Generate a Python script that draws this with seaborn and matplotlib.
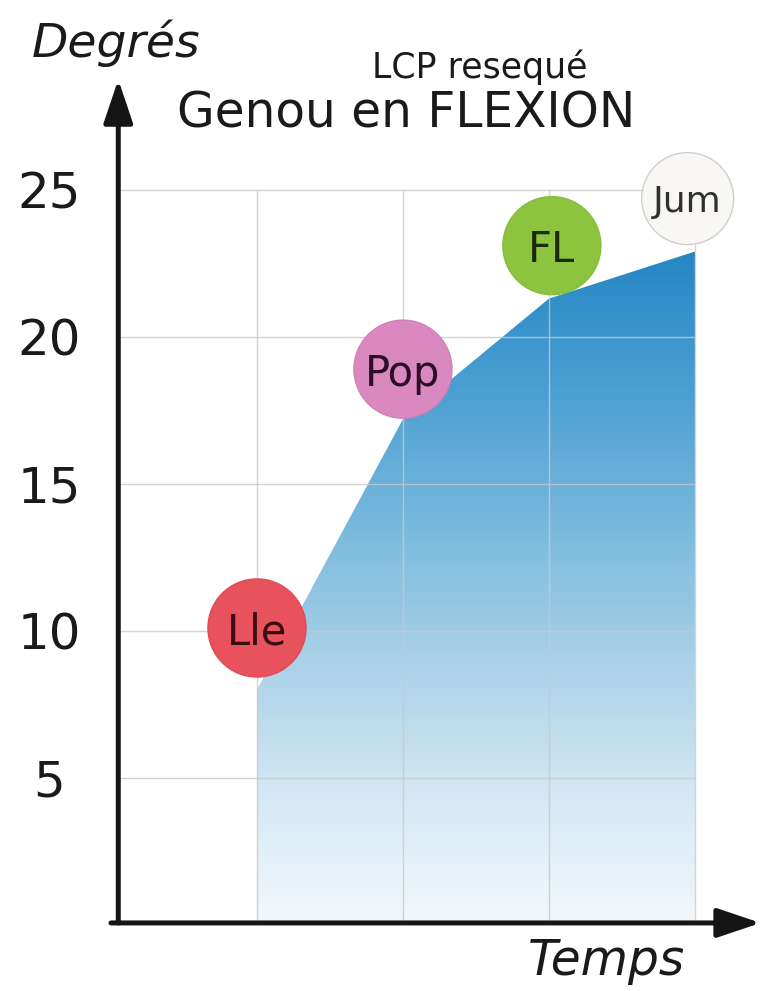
import numpy as np
import pandas as pd
import matplotlib
matplotlib.use("Agg")
import matplotlib.pyplot as plt
from matplotlib.colors import LinearSegmentedColormap
import seaborn as sns

# Flexion of the knee over time (ACL resected)
temps = [1, 2, 3, 4]
flexion = [8.0, 17.2, 21.3, 22.9]

# Muscle bubbles: label, position and colour
muscles = ["Lle", "Pop", "FL", "Jum"]
muscle_temps = [1.0, 2.0, 3.02, 3.95]
muscle_degres = [10.1, 18.9, 23.1, 24.7]
muscle_colors = ["#e8525c", "#d989c0", "#8cc43f", "#f9f7f3"]
muscle_text_colors = ["#3a0d12", "#2e0d2a", "#1c2a08", "#303030"]

ytick_values = [5, 10, 15, 20, 25]
ytick_labels = ["5", "10", "15", "20", "25"]

sns.set_style("white")
plt.rcParams["font.family"] = ["DejaVu Sans"]

fig = plt.figure(figsize=(7.64, 9.91), dpi=100)
ax = fig.add_axes([0.1548, 0.0666, 0.8408, 0.8517])
ax.set_xlim(0.05, 4.45)
ax.set_ylim(0, 28.7)
for s in ax.spines.values():
    s.set_visible(False)

# Gradient-filled area under the curve
df = pd.DataFrame({"temps": temps, "flexion": flexion})
poly = ax.fill_between(df["temps"], 0, df["flexion"], color="none", lw=0)
cmap = LinearSegmentedColormap.from_list(
    "bleu", ["#f4f8fc", "#d2e7f3", "#a8d0e7", "#77b8dd", "#4a9fd2", "#2586c3"])
grad = np.linspace(0, 1, 256).reshape(-1, 1)
img = ax.imshow(grad, cmap=cmap, origin="lower", aspect="auto",
                extent=(min(temps), max(temps), 0, max(flexion)), zorder=1)
path = poly.get_paths()[0]
img.set_clip_path(path, transform=ax.transData)
sns.lineplot(data=df, x="temps", y="flexion", ax=ax, color="#2586c3",
             linewidth=0, zorder=1)

# Light grid over the area
ax.hlines(ytick_values, 0.05, max(temps), colors="#c9c9c9", lw=1.0, zorder=2, alpha=0.8)
ax.vlines(temps, 0, max(ytick_values), colors="#c9c9c9", lw=1.0, zorder=2, alpha=0.8)

# Axes with arrow heads
arrow_kw = dict(arrowstyle="-|>,head_length=0.95,head_width=0.32", lw=3.6,
                color="#151515", shrinkA=0, shrinkB=0, mutation_scale=28)
ax.annotate("", xy=(0.05, 28.75), xytext=(0.05, 0.07), arrowprops=arrow_kw, zorder=5,
            annotation_clip=False)
ax.annotate("", xy=(4.45, 0.07), xytext=(0.0, 0.07), arrowprops=arrow_kw, zorder=5,
            annotation_clip=False)

# Bubbles
bdf = pd.DataFrame({"muscle": muscles, "temps": muscle_temps, "degres": muscle_degres})
sizes = {"Lle": 4985, "Pop": 4985, "FL": 4985, "Jum": 4385}
sns.scatterplot(data=bdf, x="temps", y="degres", hue="muscle", size="muscle",
                sizes=sizes, palette=dict(zip(muscles, muscle_colors)),
                edgecolor=["#e04a55", "#d080b6", "#86bd3a", "#cfcfcf"],
                linewidth=1.0, legend=False, ax=ax, zorder=6, clip_on=False)
label_sizes = [30, 30, 30, 26]
for m, x, y, tc, fs in zip(muscles, muscle_temps, muscle_degres,
                           muscle_text_colors, label_sizes):
    ax.text(x, y, m, ha="center", va="center_baseline", fontsize=fs, color=tc, zorder=7)

# Ticks
ax.set_xticks([])
ax.set_yticks(ytick_values)
ax.set_yticklabels(ytick_labels, fontsize=36, color="#1a1a1a", ha="center")
ax.tick_params(axis="y", length=0, pad=50)
ax.set_xlabel("")
ax.set_ylabel("")

# Titles and axis names
fig.text(116 / 764, 1 - 57 / 991, "Degrés", fontsize=34, style="italic",
         ha="center", va="baseline", color="#1a1a1a")
fig.text(480 / 764, 1 - 78 / 991, "LCP resequé", fontsize=25,
         ha="center", va="baseline", color="#1a1a1a")
fig.text(406 / 764, 1 - 128 / 991, "Genou en FLEXION", fontsize=35,
         ha="center", va="baseline", color="#1a1a1a")
fig.text(607 / 764, 1 - 975 / 991, "Temps", fontsize=35, style="italic",
         ha="center", va="baseline", color="#1a1a1a")

fig.savefig("out.png", dpi=100)
